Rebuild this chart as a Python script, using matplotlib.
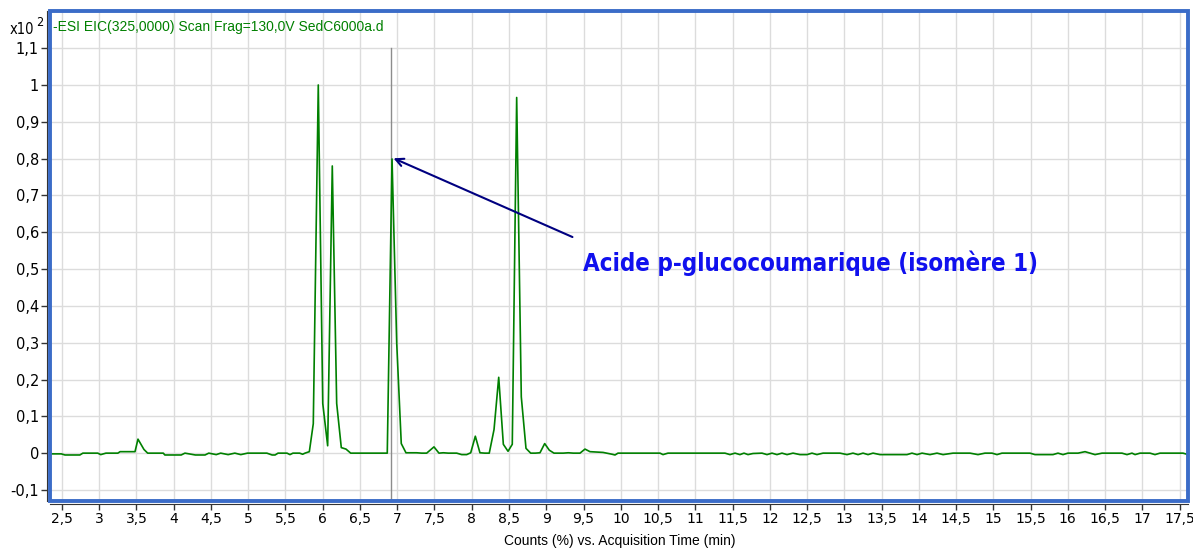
import matplotlib
matplotlib.use('Agg')
import matplotlib.pyplot as plt
from matplotlib.patches import Rectangle
from matplotlib.ticker import FuncFormatter, MultipleLocator

# 采样点（时间 min, 强度 x10^2）
times = [2.31, 2.49, 2.54, 2.74, 2.78, 2.98, 3.02, 3.09, 3.25, 3.28, 3.48, 3.52, 3.60, 3.65,
         3.86, 3.88, 4.10, 4.15, 4.29, 4.42, 4.47, 4.57, 4.63, 4.73, 4.82, 4.90, 4.99,
         5.05, 5.25, 5.32, 5.36, 5.40, 5.52, 5.56, 5.60, 5.69, 5.73, 5.762, 5.82,
         5.873, 5.94, 6.0, 6.066, 6.128, 6.187, 6.249, 6.312, 6.375, 6.866, 6.93, 6.993,
         7.054, 7.117, 7.26, 7.328, 7.395, 7.493, 7.56, 7.618, 7.685, 7.798, 7.865, 7.932,
         7.986, 8.048, 8.11, 8.174, 8.235, 8.299, 8.362, 8.424, 8.487, 8.544, 8.603, 8.665,
         8.728, 8.791, 8.853, 8.916, 8.979, 9.041, 9.104, 9.229, 9.296, 9.363, 9.453,
         9.52, 9.587, 9.762, 9.883, 9.923, 9.963, 10.124,
         10.527, 10.567, 10.634, 11.399, 11.466, 11.534, 11.6, 11.654, 11.708, 11.775,
         11.896, 11.963, 12.03, 12.097, 12.164, 12.232, 12.312, 12.406, 12.5, 12.567,
         12.634, 12.715, 12.943, 13.037, 13.117, 13.185, 13.252, 13.319, 13.386, 13.48,
         13.842, 13.909, 13.977, 14.044, 14.151, 14.245, 14.326, 14.46, 14.688, 14.795,
         14.889, 14.983, 15.05, 15.117, 15.493, 15.56, 15.802, 15.869, 15.936, 16.003,
         16.138, 16.232, 16.366, 16.46, 16.728, 16.795, 16.862, 16.903, 16.97, 17.104,
         17.171, 17.238, 17.547, 17.614, 17.668]
counts = [-0.002, -0.002, -0.005, -0.005, 0.0, 0.0, -0.004, 0.0, 0.0, 0.004, 0.004, 0.038, 0.01, 0.0,
          0.0, -0.005, -0.005, 0.0, -0.005, -0.005, 0.0, -0.004, 0.0, -0.004, 0.0, -0.004, 0.0,
          0.0, 0.0, -0.005, -0.005, 0.0, 0.0, -0.004, 0.0, 0.0, -0.003, 0.0, 0.004,
          0.08, 1.0, 0.135, 0.02, 0.78, 0.135, 0.015, 0.011, 0.0, 0.0, 0.799, 0.298,
          0.026, 0.001, 0.001, 0.0, 0.0, 0.017, 0.0, 0.001, 0.0, 0.0, -0.004, -0.004,
          0.001, 0.046, 0.001, 0.0, 0.0, 0.064, 0.206, 0.024, 0.005, 0.024, 0.966, 0.153,
          0.013, 0.0, 0.0, 0.001, 0.026, 0.008, 0.0, 0.0, 0.001, 0.0, 0.0,
          0.011, 0.004, 0.002, -0.003, -0.005, 0.0, 0.0,
          0.0, -0.004, 0.0, 0.0, -0.004, 0.0, -0.004, 0.0, -0.004, -0.001,
          0.0, -0.004, 0.0, -0.004, 0.0, -0.004, 0.0, -0.004, -0.004, 0.0,
          -0.004, 0.0, 0.0, -0.004, 0.0, -0.004, 0.0, -0.004, 0.0, -0.004,
          -0.004, 0.0, -0.004, 0.0, -0.004, 0.0, -0.004, 0.0, 0.0, -0.004,
          0.0, 0.0, -0.004, 0.0, 0.0, -0.004, -0.004, 0.0, -0.004, 0.0,
          0.0, 0.004, -0.004, 0.0, 0.0, -0.004, 0.0, -0.004, 0.0, 0.0,
          -0.004, 0.0, 0.0, -0.004, 0.0]

cursor_time = 6.916
arrow_tip = (6.916, 0.804)
arrow_tail = (9.386, 0.584)
label_text = 'Acide p-glucocoumarique (isomère 1)'
title_text = '-ESI EIC(325,0000) Scan Frag=130,0V SedC6000a.d'
xlabel_text = 'Counts (%) vs. Acquisition Time (min)'

narrow = ['DejaVu Sans', 'Liberation Sans']
regular = ['Liberation Sans', 'DejaVu Sans']


def comma_fmt(v, pos):
    s = f'{v:.1f}'.rstrip('0').rstrip('.')
    if s == '-0':
        s = '0'
    return s.replace('.', ',')


fig = plt.figure(figsize=(11.93, 5.49), dpi=100)
ax = fig.add_axes([50 / 1193, 1 - 501 / 549, 1138 / 1193, 490 / 549])

ax.set_xlim(2.339, 17.614)
ax.set_ylim(-0.130, 1.201)

ax.xaxis.set_major_locator(MultipleLocator(0.5))
ax.set_yticks([round(-0.1 + 0.1 * i, 1) for i in range(13)])
ax.xaxis.set_major_formatter(FuncFormatter(comma_fmt))
ax.yaxis.set_major_formatter(FuncFormatter(comma_fmt))
ax.grid(True, color='#dcdcdc', linewidth=1.0)
ax.set_axisbelow(True)

ax.tick_params(axis='y', labelsize=10.5)
ax.tick_params(axis='x', labelsize=10)
ax.tick_params(axis='both', color='#333333', length=4, width=1, pad=2)
for lab in ax.get_xticklabels() + ax.get_yticklabels():
    lab.set_family(narrow)
    lab.set_stretch('condensed')

for side in ['top', 'right']:
    ax.spines[side].set_visible(False)
for side in ['left', 'bottom']:
    ax.spines[side].set_position(('outward', 2))
    ax.spines[side].set_color('#333333')

# 蓝色边框
ax.add_patch(Rectangle((0, 0), 1, 1, transform=ax.transAxes, fill=False,
                       edgecolor='#3b6cc8', linewidth=2.8, clip_on=False, zorder=5))

ax.plot([cursor_time, cursor_time], [-0.13, 1.1], color='#8c8c8c', linewidth=1.0, zorder=2)
ax.plot(times, counts, color='#008000', linewidth=1.2, zorder=3)

ax.annotate('', xy=arrow_tip, xytext=arrow_tail,
            arrowprops=dict(arrowstyle='->', color='#000080', lw=1.5, mutation_scale=14),
            zorder=4)
ax.text(9.49, 0.516, label_text, color='#1010ee', fontsize=17.3, fontweight='bold',
        family=narrow, stretch='condensed', va='center', ha='left')

ax.text(0.003, 1.157, title_text, color='#008000', fontsize=10, family=regular,
        transform=ax.get_yaxis_transform(), va='center', ha='left')

fig.text(10 / 1193, 1 - 30 / 549, 'x10', fontsize=10.5, family=narrow, stretch='condensed',
         va='center')
fig.text(36 / 1193, 1 - 23 / 549, '2', fontsize=9, family=narrow, stretch='condensed',
         va='center')
fig.text(620 / 1193, 1 - 541 / 549, xlabel_text, fontsize=10, family=regular,
         ha='center', va='center')

fig.savefig('out.png', dpi=100)
